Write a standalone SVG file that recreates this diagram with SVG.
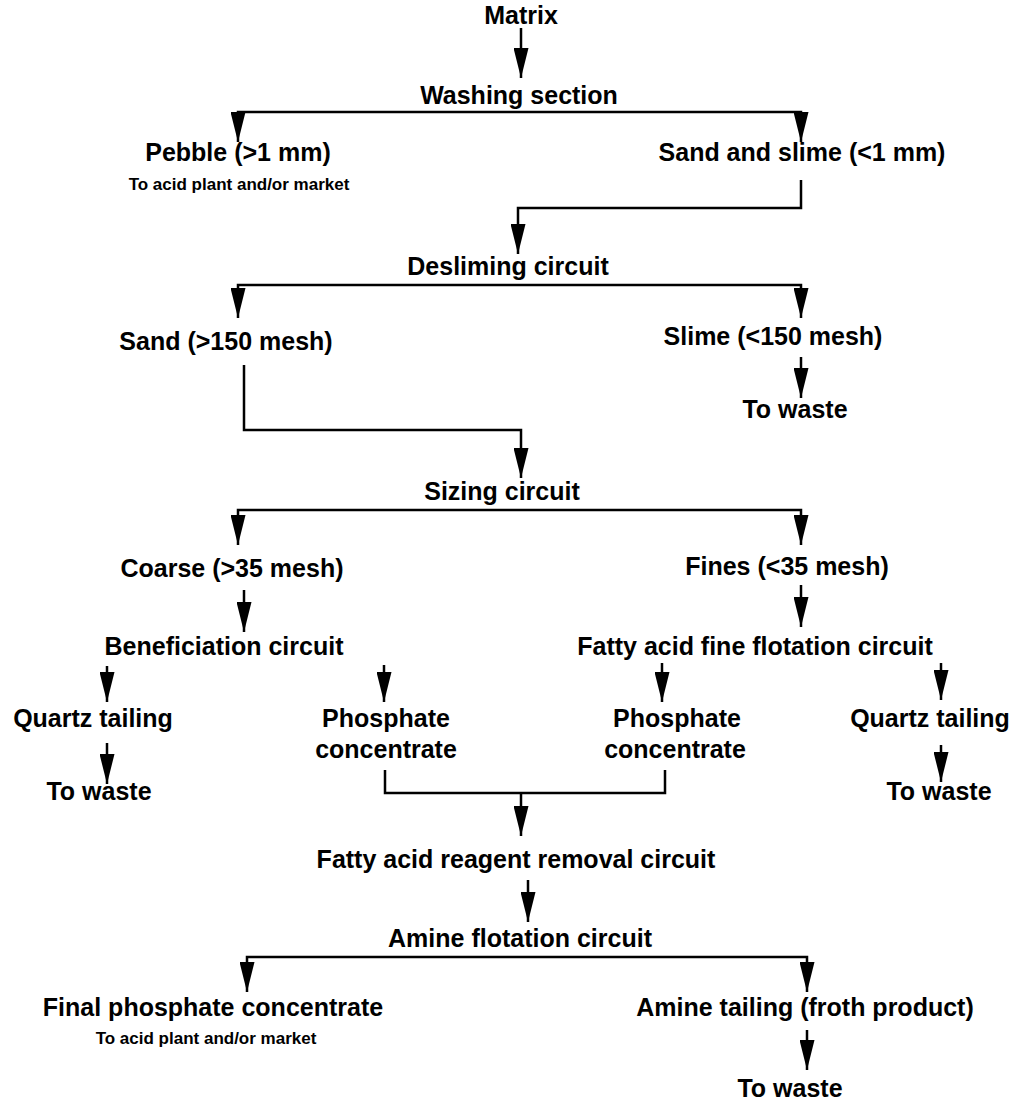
<svg xmlns="http://www.w3.org/2000/svg" width="1013" height="1109" viewBox="0 0 1013 1109">
<defs>
<style>
text{font-family:"Liberation Sans",Arial,sans-serif;font-weight:bold;fill:#000;text-anchor:middle}
.m{font-size:25px}
.s{font-size:17px}
.c{fill:none;stroke:#000;stroke-width:2.5;marker-end:url(#ah)}
.b{fill:none;stroke:#000;stroke-width:2.5}
</style>
<marker id="ah" viewBox="0 0 30 15" refX="30" refY="7.5" markerWidth="30" markerHeight="15" markerUnits="userSpaceOnUse" orient="auto">
<path d="M0,0 L30,7.5 L0,15 z" fill="#000"/>
</marker>
</defs>
<rect width="1013" height="1109" fill="#fff"/>
<g id="connectors">
<path class="c" d="M521,28 V78"/>
<path class="c" d="M519,112 H238 V142"/>
<path class="c" d="M519,112 H801 V142"/>
<path class="c" d="M801,180 V208 H518 V254"/>
<path class="c" d="M518,285 H238 V318"/>
<path class="c" d="M518,285 H801 V318"/>
<path class="c" d="M801,357 V398"/>
<path class="c" d="M244,365 V430 H521 V478"/>
<path class="c" d="M521,510 H238 V545"/>
<path class="c" d="M521,510 H801 V545"/>
<path class="c" d="M244,590 V632"/>
<path class="c" d="M801,585 V627"/>
<path class="c" d="M107,666 V702"/>
<path class="c" d="M384,665 V702"/>
<path class="c" d="M662,663 V702"/>
<path class="c" d="M941,663 V700"/>
<path class="c" d="M107,743 V784"/>
<path class="c" d="M941,745 V782"/>
<path class="b" d="M385,770 V793 H665 V770"/>
<path class="c" d="M521,793 V836"/>
<path class="c" d="M528,880 V922"/>
<path class="c" d="M527,957 H247 V992"/>
<path class="c" d="M527,957 H807 V992"/>
<path class="c" d="M807,1030 V1070"/>
</g>
<g id="matrix"><text class="m" x="521" y="24">Matrix</text></g>
<g id="washing"><text class="m" x="519" y="104">Washing section</text></g>
<g id="pebble"><text class="m" x="238" y="161">Pebble (&gt;1 mm)</text><text class="s" x="239" y="190">To acid plant and/or market</text></g>
<g id="sandslime"><text class="m" x="802" y="161">Sand and slime (&lt;1 mm)</text></g>
<g id="desliming"><text class="m" x="508" y="275">Desliming circuit</text></g>
<g id="sand"><text class="m" x="226" y="350">Sand (&gt;150 mesh)</text></g>
<g id="slime"><text class="m" x="773" y="345">Slime (&lt;150 mesh)</text></g>
<g id="waste1"><text class="m" x="795" y="418">To waste</text></g>
<g id="sizing"><text class="m" x="502" y="500">Sizing circuit</text></g>
<g id="coarse"><text class="m" x="232" y="577">Coarse (&gt;35 mesh)</text></g>
<g id="fines"><text class="m" x="787" y="575">Fines (&lt;35 mesh)</text></g>
<g id="benef"><text class="m" x="224" y="655">Beneficiation circuit</text></g>
<g id="fattyfine"><text class="m" x="755" y="655">Fatty acid fine flotation circuit</text></g>
<g id="quartz1"><text class="m" x="93" y="727">Quartz tailing</text></g>
<g id="phos1"><text class="m" x="386" y="727">Phosphate</text><text class="m" x="386" y="758">concentrate</text></g>
<g id="phos2"><text class="m" x="677" y="727">Phosphate</text><text class="m" x="675" y="758">concentrate</text></g>
<g id="quartz2"><text class="m" x="930" y="727">Quartz tailing</text></g>
<g id="waste2"><text class="m" x="99" y="800">To waste</text></g>
<g id="waste3"><text class="m" x="939" y="800">To waste</text></g>
<g id="reagent"><text class="m" x="516" y="868">Fatty acid reagent removal circuit</text></g>
<g id="amine"><text class="m" x="520" y="947">Amine flotation circuit</text></g>
<g id="final"><text class="m" x="213" y="1016">Final phosphate concentrate</text><text class="s" x="206" y="1044">To acid plant and/or market</text></g>
<g id="aminetail"><text class="m" x="805" y="1016">Amine tailing (froth product)</text></g>
<g id="waste4"><text class="m" x="790" y="1097">To waste</text></g>
</svg>
